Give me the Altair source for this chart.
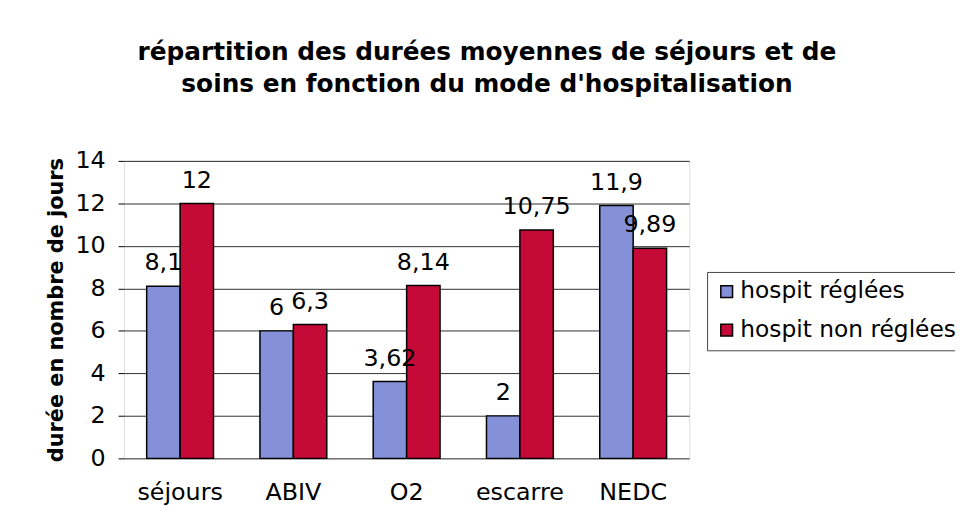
import altair as alt
import pandas as pd

categories = ["séjours", "ABIV", "O2", "escarre", "NEDC"]
series = ["hospit réglées", "hospit non réglées"]
reglees = [8.1, 6, 3.62, 2, 11.9]
non_reglees = [12, 6.3, 8.14, 10.75, 9.89]
colors = ["#8490d8", "#c50a38"]

rows = []
for c, a, b in zip(categories, reglees, non_reglees):
    rows.append({"cat": c, "serie": series[0], "val": a, "lab": f"{a:g}".replace(".", ",")})
    rows.append({"cat": c, "serie": series[1], "val": b, "lab": f"{b:g}".replace(".", ",")})
df = pd.DataFrame(rows)

FONT = "DejaVu Sans"

x = alt.X("cat:N", sort=categories,
          scale=alt.Scale(paddingInner=0.41, paddingOuter=0.2),
          axis=alt.Axis(title=None, ticks=False, domain=False, labelAngle=0,
                        labelFontSize=24, labelFont=FONT, labelColor="black",
                        labelPadding=22, grid=False))
xo = alt.XOffset("serie:N", sort=series)
y = alt.Y("val:Q", scale=alt.Scale(domain=[0, 14], nice=False),
          axis=alt.Axis(title="durée en nombre de jours", values=list(range(0, 15, 2)),
                        titleFontSize=21, titleFont=FONT, titleFontWeight="bold",
                        titleColor="black", titlePadding=8,
                        labelFontSize=24, labelFont=FONT, labelColor="black",
                        labelPadding=13, tickSize=6, tickColor="black",
                        domain=False, grid=True, gridColor="#303030", gridWidth=1))

base = alt.Chart(df).encode(x=x, xOffset=xo, y=y)

bars = base.mark_bar(stroke="black", strokeWidth=1.5).encode(
    color=alt.Color("serie:N", sort=series,
                    scale=alt.Scale(domain=series, range=colors),
                    legend=alt.Legend(title=None, orient="none", legendX=588, legendY=112,
                                      symbolType="square", symbolSize=140,
                                      symbolStrokeColor="black", symbolStrokeWidth=1.5,
                                      labelFontSize=23.5, labelFont=FONT, labelColor="black",
                                      labelLimit=400,
                                      rowPadding=14, padding=8, symbolOffset=0,
                                      labelOffset=2,
                                      strokeColor="#444444", fillColor="white"))
)

labels = base.mark_text(baseline="alphabetic", dy=-16, fontSize=24, font=FONT, color="black").encode(
    text="lab:N"
)

chart = alt.layer(bars, labels).properties(
    width=570, height=300,
    autosize=alt.AutoSizeParams(type="none"),
    padding={"left": 117, "top": 152, "right": 268, "bottom": 64},
    title=alt.TitleParams(
        text=["répartition des durées moyennes de séjours et de",
              "soins en fonction du mode d'hospitalisation"],
        fontSize=25, font=FONT, fontWeight="bold", color="black",
        anchor="middle", dx=81, offset=52, lineHeight=33),
).configure_view(fill="#c8c8c8", stroke="black", strokeWidth=1.5
).configure(background="white")

chart.save("out.html", embed_options={"renderer": "svg", "actions": False})
